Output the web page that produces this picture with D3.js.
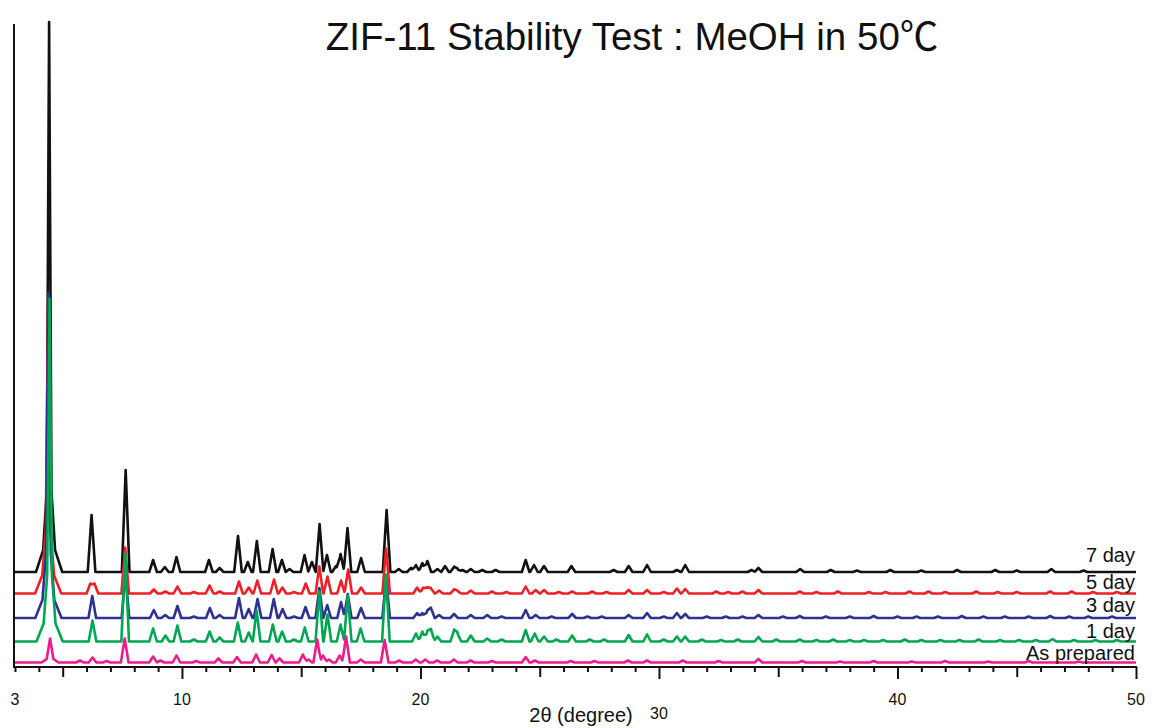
<!DOCTYPE html>
<html>
<head>
<meta charset="utf-8">
<script src="https://cdn.jsdelivr.net/npm/d3@7"></script>
<style>
  html, body { margin: 0; padding: 0; background: #fff; }
  svg { display: block; }
  text { font-family: "Liberation Sans", Arial, "Noto Sans CJK SC", sans-serif; fill: #111; }
</style>
</head>
<body>
<svg id="chart" width="1152" height="728"></svg>
<script>
// PXRD patterns of ZIF-11 soaked in MeOH at 50 °C.
// Each reflection: [2θ (deg), intensity above the pattern's baseline, optional half-width (deg)]
const peaks7day = [
  [4.43, 430, 0.1], [4.43, 80, 0.25], [4.43, 40, 0.55],
  [6.21, 57], [7.64, 102], [8.79, 12], [9.28, 5], [9.77, 15],
  [11.13, 12], [11.58, 4], [12.35, 36], [12.76, 10], [13.14, 31], [13.80, 23], [14.19, 12], [14.51, 3],
  [15.14, 17], [15.45, 10], [15.77, 48], [16.08, 17], [16.46, 6], [16.65, 18], [16.94, 44], [17.51, 14],
  [18.58, 62], [19.09, 3], [19.60, 4], [19.81, 7], [20.08, 9], [20.29, 11], [20.71, 3], [21.03, 6],
  [21.41, 5], [21.55, 3], [21.76, 2], [22.11, 3], [22.59, 2], [23.15, 2], [24.41, 12], [24.76, 7],
  [25.18, 6], [26.33, 6], [28.10, 2], [28.73, 6], [29.50, 7], [30.75, 2], [31.10, 7], [33.88, 2],
  [34.17, 4], [35.92, 3], [37.2, 2], [38.3, 1.5], [39.7, 2], [41.0, 1.5], [42.5, 2], [44.1, 2],
  [45.0, 1.5], [46.45, 3], [47.8, 1.5]
];
const peaks5day = [
  [4.39, 200, 0.1], [4.39, 60, 0.25], [4.39, 33, 0.55],
  [6.16, 10], [6.33, 10], [7.62, 46], [8.82, 4], [9.30, 2],
  [9.81, 7], [10.5, 1.5], [11.16, 8], [11.58, 2], [12.39, 12], [12.80, 6], [13.16, 13], [13.86, 14], [14.21, 6],
  [14.7, 1.5], [15.19, 10], [15.76, 27], [16.10, 17], [16.67, 13], [16.97, 24], [17.51, 6], [18.56, 45],
  [19.86, 6], [20.12, 6], [20.29, 6], [20.44, 5], [20.78, 3], [21.41, 4], [21.55, 2.5], [22.11, 3],
  [23.0, 2], [23.6, 1.5], [24.41, 7], [24.83, 3.5], [25.18, 3.5], [25.8, 1.5], [26.36, 2], [27.2, 2],
  [27.8, 1.5], [28.73, 3.5], [29.50, 3.5], [30.2, 1.5], [30.75, 5], [31.10, 4.5], [32.4, 2], [32.9, 1.5],
  [33.5, 2], [34.17, 3.5], [35.9, 2], [36.6, 1.5], [37.5, 2], [38.8, 1.5], [39.5, 1.5], [40.5, 2],
  [41.3, 2], [42.0, 1.5], [43.3, 2], [44.2, 1.5], [45.0, 1.5], [46.4, 2], [47.3, 2], [48.2, 1.5], [49.2, 1.5]
];
const peaks3day = [
  [4.40, 230, 0.1], [4.40, 62, 0.25], [4.40, 33, 0.55],
  [6.24, 22], [7.63, 45], [8.82, 8], [9.30, 3], [9.81, 12],
  [10.5, 1.5], [11.17, 10], [11.58, 3], [12.39, 20], [12.80, 9], [13.17, 19], [13.85, 19], [14.22, 9],
  [14.7, 1.5], [15.18, 11], [15.76, 30], [16.09, 13], [16.67, 16], [16.95, 24], [17.51, 10], [18.56, 40],
  [19.86, 5], [20.08, 5], [20.29, 7], [20.44, 10], [20.78, 3], [21.41, 4], [22.11, 3], [22.80, 3],
  [23.4, 1.5], [24.41, 8], [24.83, 3], [25.5, 1.5], [26.36, 4], [27.0, 1.5], [27.6, 1.5], [28.73, 3],
  [29.50, 5], [30.2, 1.5], [30.75, 5], [31.10, 4], [32.0, 1.5], [32.8, 1.5], [33.5, 1.5], [34.17, 3],
  [35.2, 1.5], [35.9, 2], [37.0, 1.5], [38.0, 1.5], [39.0, 2], [40.0, 1.5], [40.8, 1.5], [41.7, 1.5],
  [42.7, 2], [43.6, 1.5], [44.5, 1.5], [45.5, 1.5], [46.4, 2], [47.2, 1.5], [48.0, 1.5], [49.0, 1.5]
];
const peaks1day = [
  [4.45, 245, 0.1], [4.45, 65, 0.25], [4.45, 33, 0.55],
  [6.25, 21], [7.62, 88], [8.79, 13], [9.31, 6], [9.81, 16],
  [10.5, 2], [11.16, 10], [11.58, 4], [12.34, 19], [12.80, 9], [13.13, 31], [13.81, 17], [14.20, 10],
  [14.7, 2], [15.15, 14], [15.76, 50], [16.10, 27], [16.65, 17], [16.95, 46], [17.49, 13], [18.55, 67],
  [19.81, 8], [20.08, 10], [20.29, 10], [20.44, 12], [20.71, 5], [21.41, 11], [21.55, 8], [22.11, 6],
  [22.80, 3], [23.4, 2], [24.41, 11.5], [24.79, 8], [25.18, 5], [25.7, 2], [26.36, 6], [27.1, 2],
  [27.7, 2], [28.73, 6.5], [29.50, 7], [30.2, 2], [30.75, 5], [31.10, 5], [31.8, 2], [32.6, 1.5],
  [33.3, 2], [34.17, 4.5], [34.92, 2], [35.9, 2], [36.6, 1.5], [37.3, 2], [38.0, 1.5], [38.6, 1.5],
  [39.4, 1.5], [40.3, 2], [41.0, 1.5], [41.8, 1.5], [42.6, 1.5], [43.4, 2], [44.3, 1.5], [45.1, 1.5],
  [45.8, 1.5], [46.5, 2.5], [47.4, 1.5], [48.3, 1.5], [49.2, 1.5]
];
const peaksAsPrepared = [
  [4.47, 18, 0.14], [4.47, 6, 0.35], [5.72, 2], [6.25, 5], [6.84, 1.5], [7.60, 24], [8.79, 6], [9.10, 2],
  [9.77, 7], [10.6, 1.5], [11.53, 4], [12.31, 5.5], [13.11, 8], [13.76, 7.5], [14.09, 4], [15.07, 8],
  [15.30, 3], [15.67, 23], [15.92, 7], [16.16, 3], [16.61, 7], [16.88, 26], [17.50, 3], [18.50, 22.5],
  [19.10, 2], [19.80, 3], [20.20, 3], [20.70, 2], [21.40, 3], [22.10, 2], [23.0, 1.5], [24.41, 5.5],
  [24.80, 2], [26.30, 1.5], [27.3, 1.5], [28.70, 2], [29.50, 2], [31.00, 2], [32.5, 1.5], [34.17, 3.5],
  [36.0, 1.5], [37.6, 1], [39.0, 1.5], [40.6, 1], [42.0, 1.5], [43.8, 1], [45.5, 1.5], [47.6, 1]
];

// Stacking offsets of each pattern (intensity units) and names, top to bottom
const seriesNames = ["7 day", "5 day", "3 day", "1 day", "As prepared"];
const seriesOffsets = [95, 73.5, 49, 25.5, 4.5];
const seriesPeaks = [peaks7day, peaks5day, peaks3day, peaks1day, peaksAsPrepared];
const seriesColors = ["#111111", "#ec2028", "#2e3192", "#00a651", "#ec1c8c"];

// Axis ticks
const tickLabels = [3, 10, 20, 30, 40, 50];
const titleText = "ZIF-11 Stability Test : MeOH in 50\u2103";
const xTitle = "2\u03b8 (degree)";

const svg = d3.select("#chart");
const x = d3.scaleLinear().domain([3, 50]).range([15, 1136]);
const y = d3.scaleLinear().domain([0, 643]).range([667, 24]);

const DEFAULT_HW = 0.16;

// Piecewise-linear pattern: each reflection is a triangle profile, summed at every break point.
function pattern(peaks, offset) {
  const [lo, hi] = x.domain();
  const pts = new Set([lo, hi]);
  peaks.forEach(([p, h, w = DEFAULT_HW]) => {
    [p - w, p, p + w].forEach(v => { if (v >= lo && v <= hi) pts.add(+v.toFixed(4)); });
  });
  const xs = Array.from(pts).sort((a, b) => a - b);
  return xs.map(t => {
    let s = 0;
    peaks.forEach(([p, h, w = DEFAULT_HW]) => {
      const d = Math.abs(t - p);
      if (d < w) s += h * (1 - d / w);
    });
    return [t, offset + s];
  });
}

const line = d3.line().x(d => x(d[0])).y(d => y(d[1]));

// Patterns
const gLines = svg.append("g");
seriesPeaks.forEach((pk, i) => {
  gLines.append("path")
    .datum(pattern(pk, seriesOffsets[i]))
    .attr("fill", "none")
    .attr("stroke", seriesColors[i])
    .attr("stroke-width", 2.6)
    .attr("stroke-linejoin", "round")
    .attr("d", line);
});

// Left axis line
svg.append("line")
  .attr("x1", x(3) - 1).attr("x2", x(3) - 1)
  .attr("y1", y(0)).attr("y2", y(643))
  .attr("stroke", "#111").attr("stroke-width", 2);

// Bottom axis: minor, medium and major ticks
const axisG = svg.append("g").attr("transform", `translate(0,${y(0)})`);
const minor = d3.range(3, 51, 1).filter(v => v % 5 !== 0);
const medium = [5, 15, 25, 35, 45];
const major = [10, 20, 30, 40, 50];
[[minor, 5], [medium, 10], [major, 12]].forEach(([vals, len]) => {
  const a = axisG.append("g")
    .call(d3.axisBottom(x).tickValues(vals).tickSize(len).tickFormat(""));
  a.select(".domain").remove();
  a.selectAll(".tick line").attr("stroke", "#111").attr("stroke-width", 2);
});
axisG.append("line")
  .attr("x1", x(3) - 2).attr("x2", x(50) + 1)
  .attr("y1", 0).attr("y2", 0)
  .attr("stroke", "#111").attr("stroke-width", 2.2);

// Tick labels
svg.append("g").selectAll("text")
  .data(tickLabels)
  .join("text")
  .attr("x", d => x(d))
  .attr("y", d => d === 30 ? 719 : 705)
  .attr("text-anchor", "middle")
  .attr("font-size", 16)
  .text(d => d);

// Axis title
svg.append("text")
  .attr("x", 581).attr("y", 722)
  .attr("text-anchor", "middle")
  .attr("font-size", 20)
  .text(xTitle);

// Chart title
svg.append("text")
  .attr("x", 632).attr("y", 50)
  .attr("text-anchor", "middle")
  .attr("font-size", 38.5)
  .text(titleText);

// Series labels above each pattern at the right end
const labelLift = [10, 5, 6, 4, 3];
svg.append("g").selectAll("text")
  .data(seriesNames)
  .join("text")
  .attr("x", x(50) - 1)
  .attr("y", (d, i) => y(seriesOffsets[i]) - labelLift[i])
  .attr("text-anchor", "end")
  .attr("font-size", 20)
  .text(d => d);
</script>
</body>
</html>
